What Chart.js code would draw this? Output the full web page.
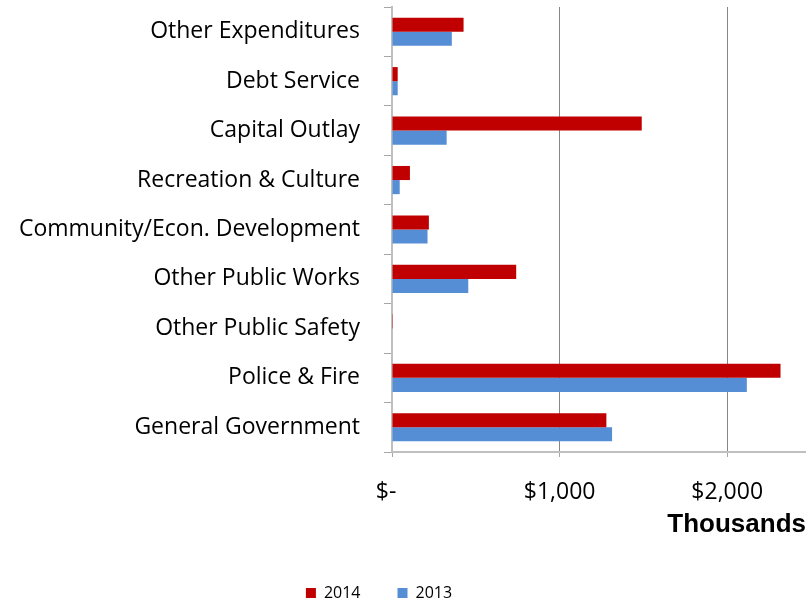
<!DOCTYPE html>
<html>
<head>
<meta charset="utf-8">
<script src="https://cdn.jsdelivr.net/npm/chart.js@4"></script>
<style>
  body { margin: 0; background: #fff; }
  #wrap { width: 806px; height: 605px; }
</style>
</head>
<body>
<div id="wrap"><canvas id="expChart" width="806" height="605"></canvas></div>
<script>
const categories = ['Other Expenditures', 'Debt Service', 'Capital Outlay', 'Recreation & Culture',
    'Community/Econ. Development', 'Other Public Works', 'Other Public Safety', 'Police & Fire',
    'General Government'];
const values2014 = [427, 34, 1490, 107, 220, 741, 5, 2318, 1279];
const values2013 = [357, 34, 326, 46, 212, 455, 0, 2117, 1313];
const xTicks = [0, 1000, 2000];

// move legend a bit left and down, like the original
const legendShift = {
    id: 'legendShift',
    afterLayout(chart) {
        const lg = chart.legend;
        lg.left -= 24;
        lg.right -= 24;
        lg.top += 8;
        lg.bottom += 8;
    }
};

const ctx = document.getElementById('expChart').getContext('2d');

new Chart(ctx, {
    type: 'bar',
    data: {
        labels: categories,
        datasets: [{
            label: '2014',
            data: values2014,
            backgroundColor: '#C00000',
            barPercentage: 1,
            categoryPercentage: 0.57
        }, {
            label: '2013',
            data: values2013,
            backgroundColor: '#558ED5',
            barPercentage: 1,
            categoryPercentage: 0.57
        }]
    },
    options: {
        indexAxis: 'y',
        responsive: false,
        animation: false,
        layout: {
            padding: { top: 7, right: 0, left: 0, bottom: 2 }
        },
        plugins: {
            legend: {
                position: 'bottom',
                labels: {
                    boxWidth: 10,
                    boxHeight: 10,
                    padding: 37,
                    color: '#000',
                    font: { family: 'Open Sans', size: 16 }
                }
            },
            tooltip: { enabled: false }
        },
        scales: {
            x: {
                min: 0,
                max: 2470,
                afterBuildTicks: axis => {
                    axis.ticks = xTicks.map(v => ({ value: v }));
                },
                afterFit: s => {
                    s.height = 88;
                },
                grid: {
                    color: c => c.tick && c.tick.value === 0 ? 'rgba(0,0,0,0)' : '#868686',
                    tickColor: '#A6A6A6',
                    tickLength: 5
                },
                border: { color: '#BFBFBF', width: 2 },
                ticks: {
                    padding: 22,
                    maxRotation: 0,
                    color: '#000',
                    font: { family: 'Open Sans', size: 23 },
                    callback: v => v === 0 ? '$-  ' : '$' + v.toLocaleString('en-US')
                },
                title: {
                    display: true,
                    text: 'Thousands',
                    align: 'end',
                    color: '#000',
                    font: { family: 'Liberation Sans', size: 26, weight: 'bold' },
                    padding: { top: 7, bottom: 0 }
                }
            },
            y: {
                afterFit: s => {
                    s.width = 392;
                    s.paddingTop = 0;
                    s.paddingBottom = 0;
                },
                grid: {
                    drawOnChartArea: false,
                    drawTicks: true,
                    tickLength: 8,
                    color: '#A6A6A6',
                    offset: true
                },
                border: { color: '#BFBFBF', width: 2 },
                ticks: {
                    padding: 24,
                    color: '#000',
                    font: { family: 'Open Sans', size: 23 }
                }
            }
        }
    },
    plugins: [legendShift]
});
</script>
</body>
</html>
